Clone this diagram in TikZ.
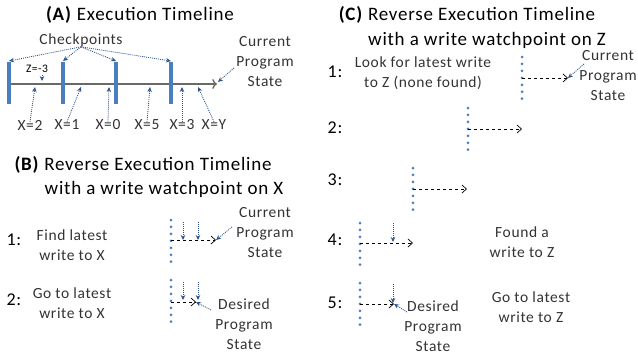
\documentclass[tikz,border=0pt]{standalone}
\usepackage{fontspec}
\setmainfont[LetterSpace=4]{Carlito}
\usetikzlibrary{arrows.meta}
\definecolor{cpblue}{RGB}{74,126,191}
\definecolor{ptrblue}{RGB}{45,85,140}
\definecolor{linegray}{RGB}{105,105,105}
\tikzset{
  ttl/.style={font=\fontsize{19}{24}\selectfont, align=center, inner sep=0pt},
  lbl/.style={font=\fontsize{15.5}{20}\selectfont, align=center, inner sep=0pt, text=black!80},
  num/.style={font=\fontsize{18}{20}\selectfont, inner sep=0pt},
  bar/.style={draw=cpblue, line width=3.2pt},
  dotline/.style={draw=cpblue, line width=3pt, line cap=round, dash pattern=on 0pt off 6.95pt},
  ptr/.style={draw=ptrblue, line width=0.8pt, dash pattern=on 1pt off 1pt, -{Stealth[length=5pt,width=4.5pt]}},
  run/.style={draw=black, dashed, line width=0.7pt, -{Straight Barb[length=4.5pt,width=8pt]}},
}

\begin{document}
\begin{tikzpicture}[x=1pt,y=-1pt]
  \useasboundingbox (0,0) rectangle (638,354);

  % (A) execution timeline
  \node[ttl] (tA) at (140,15) {\textbf{(A)} Execution Timeline};
  \node[lbl] (chk) at (81,40) {Checkpoints};
  \coordinate (t0) at (8,84);
  \coordinate (t1) at (217,84);
  \draw[linegray, line width=1.4pt, ->] (t0) -- (t1);
  \foreach \i/\x in {1/9,2/63,3/116,4/171} {
    \coordinate (c\i) at (\x,61);
    \draw[bar] (\x,62) -- (\x,104);
    \draw[ptr] (chk.south) -- (c\i);
  }
  \node[font=\fontsize{11.5}{13}\selectfont, inner sep=0pt] (zA) at (37,69) {Z=-3};
  \coordinate (zw) at (42,81);
  \draw[ptr] (42,75) -- (zw);
  \foreach \n/\lab/\x/\tx in {x2/X=2/30/35, x1/X=1/67/81, x0/X=0/108/109,
                              x5/X=5/147/150, x3/X=3/182/182, xy/X=Y/214/198} {
    \node[lbl] (\n) at (\x,125) {\lab};
    \coordinate (\n w) at (\tx,87);
    \draw[ptr] ([yshift=-2pt]\n.north) -- (\n w);
  }
  \node[lbl] (curA) at (265,62) {Current\\Program\\State};
  \coordinate (curAe) at (218,82);
  \draw[ptr] (234,68) -- (curAe);

  % (B) reverse timeline, watch X
  \node[ttl] (tB1) at (143,165) {\textbf{(B)} Reverse Execution Timeline};
  \node[ttl] (tB2) at (164,189) {with a write watchpoint on X};

  \node[num] (b1) at (14,240) {1:};
  \node[lbl] (b1t) at (72,245) {Find latest\\write to X};
  \draw[dotline] (171,220) -- (171,262);
  \coordinate (b1s) at (171,240);
  \coordinate (b1e) at (216,240);
  \draw[run] (b1s) -- (b1e);
  \draw[ptr] (183,222) -- (183,240);
  \draw[ptr] (198,222) -- (198,240);
  \node[lbl] (curB) at (265,233) {Current\\Program\\State};
  \draw[ptr] (232,227) -- (b1e);

  \node[num] (b2) at (14,300) {2:};
  \node[lbl] (b2t) at (72,303) {Go to latest\\write to X};
  \draw[dotline] (171,280) -- (171,322);
  \coordinate (b2s) at (171,302);
  \coordinate (b2e) at (196,302);
  \draw[run] (b2s) -- (b2e);
  \draw[ptr] (183,282) -- (183,300);
  \draw[ptr] (198,282) -- (198,300);
  \node[lbl] (desB) at (244,324) {Desired\\Program\\State};
  \draw[ptr] (211,310) -- (b2e);

  % (C) reverse timeline, watch Z
  \node[ttl] (tC1) at (467,15) {\textbf{(C)} Reverse Execution Timeline};
  \node[ttl] (tC2) at (487,40) {with a write watchpoint on Z};

  \node[num] (c1) at (335,72) {1:};
  \node[lbl] (c1t) at (423,73) {Look for latest write\\to Z (none found)};
  \draw[dotline] (522,57) -- (522,99);
  \coordinate (c1s) at (522,78);
  \coordinate (c1e) at (568,78);
  \draw[run] (c1s) -- (c1e);
  \node[lbl] (curC) at (608,76) {Current\\Program\\State};
  \draw[ptr] (584,64) -- (c1e);

  \node[num] (c2) at (335,128) {2:};
  \draw[dotline] (468,108) -- (468,150);
  \coordinate (c2s) at (468,129);
  \coordinate (c2e) at (522,129);
  \draw[run] (c2s) -- (c2e);

  \node[num] (c3) at (335,180) {3:};
  \draw[dotline] (413,168) -- (413,210);
  \coordinate (c3s) at (413,189);
  \coordinate (c3e) at (467,189);
  \draw[run] (c3s) -- (c3e);

  \node[num] (c4) at (335,240) {4:};
  \draw[dotline] (360,223) -- (360,265);
  \coordinate (c4s) at (360,243);
  \coordinate (c4e) at (413,243);
  \draw[run] (c4s) -- (c4e);
  \draw[ptr] (393,223) -- (393,242);
  \node[lbl] (c4t) at (522,242) {Found a\\write to Z};

  \node[num] (c5) at (335,303) {5:};
  \draw[dotline] (360,283) -- (360,325);
  \coordinate (c5s) at (360,304);
  \coordinate (c5e) at (394,304);
  \draw[run] (c5s) -- (c5e);
  \draw[ptr] (393,284) -- (393,303);
  \node[lbl] (desC) at (433,326) {Desired\\Program\\State};
  \draw[ptr] (407,312) -- (c5e);
  \node[lbl] (c5t) at (531,307) {Go to latest\\write to Z};
\end{tikzpicture}
\end{document}
